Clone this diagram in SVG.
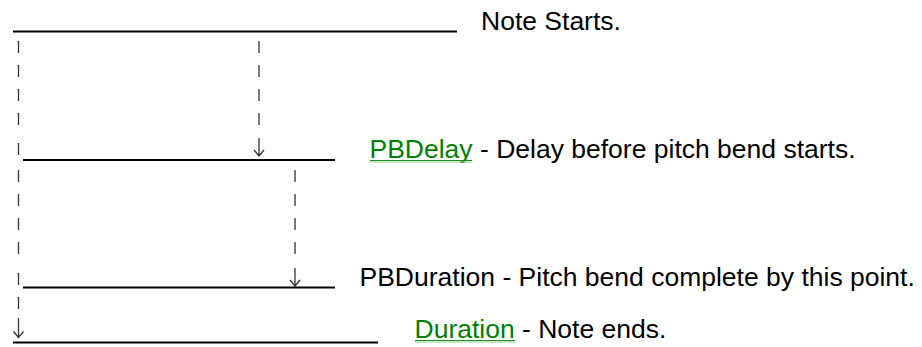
<svg xmlns="http://www.w3.org/2000/svg" width="922" height="347" viewBox="0 0 922 347">
<style>
.t{font-family:"Liberation Sans",Arial,sans-serif;font-size:26.5px;fill:#000}
.lk{fill:#008000}
.rule{stroke:#000;stroke-width:2;fill:none}
.dash{stroke:#333;stroke-width:1.3;fill:none}
.ul1{stroke:#1f8f1f;stroke-width:1}
.ul2{stroke:#8fcf8f;stroke-width:1.2}
</style>
<rect width="922" height="347" fill="#fff"/>
<g id="connectors">
  <path class="dash" d="M18.5 41V53M18.5 65V77M18.5 89V101M18.5 113V125M18.5 143V155M18.5 170V182M18.5 194V206M18.5 218V230M18.5 242V254M18.5 273V285M18.5 297V309M18.5 318V337.5M13.5 331.5L18.5 337.5L23.5 331.5"/>
  <path class="dash" d="M259 41V53M259 65V77M259 89V101M259 113V125M259 138V156M254 150L259 156L264 150"/>
  <path class="dash" d="M295 170V182M295 194V206M295 218V230M295 242V254M295 268V286M290 280L295 286L300 280"/>
</g>
<g id="note-start">
  <line class="rule" x1="13" y1="31.5" x2="457" y2="31.5"/>
  <text class="t" x="481" y="30">Note Starts.</text>
</g>
<g id="pbdelay">
  <line class="rule" x1="23" y1="160" x2="335" y2="160"/>
  <text class="t" x="369.5" y="157.5"><tspan class="lk">PBDelay</tspan> - Delay before pitch bend starts.</text>
  <line class="ul1" x1="370" y1="160.5" x2="472" y2="160.5"/>
  <line class="ul2" x1="370" y1="162" x2="472" y2="162"/>
</g>
<g id="pbduration">
  <line class="rule" x1="23" y1="287.5" x2="335" y2="287.5"/>
  <text class="t" x="359.5" y="286">PBDuration - Pitch bend complete by this point.</text>
</g>
<g id="duration">
  <line class="rule" x1="13" y1="342.5" x2="378" y2="342.5"/>
  <text class="t" x="414.5" y="338"><tspan class="lk">Duration</tspan> - Note ends.</text>
  <line class="ul1" x1="415" y1="340.5" x2="515" y2="340.5"/>
  <line class="ul2" x1="415" y1="342" x2="515" y2="342"/>
</g>
</svg>
